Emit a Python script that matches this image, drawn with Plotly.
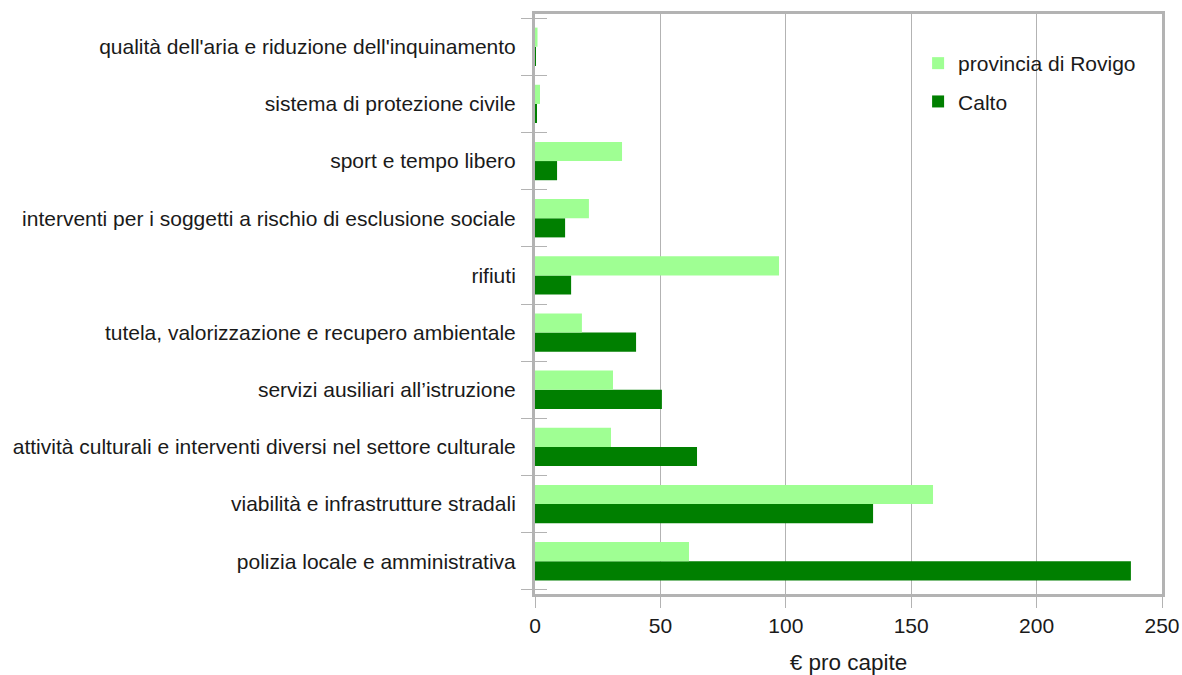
import plotly.graph_objects as go

categories = [
    "polizia locale e amministrativa",
    "viabilità e infrastrutture stradali",
    "attività culturali e interventi diversi nel settore culturale",
    "servizi ausiliari all’istruzione",
    "tutela, valorizzazione e recupero ambientale",
    "rifiuti",
    "interventi per i soggetti a rischio di esclusione sociale",
    "sport e tempo libero",
    "sistema di protezione civile",
    "qualità dell'aria e riduzione dell'inquinamento",
]
provincia = [61.4, 158.7, 30.3, 31.1, 18.7, 97.3, 21.5, 34.7, 2.0, 1.0]
calto = [237.6, 134.8, 64.6, 50.6, 40.3, 14.4, 12.0, 8.8, 0.5, 0.4]
x_ticks = [0, 50, 100, 150, 200, 250]

GRAY = "#b3b3b3"
FONT = "Liberation Sans, Arial, sans-serif"

fig = go.Figure()
fig.add_trace(go.Bar(y=categories, x=calto, orientation="h", name="Calto",
                     legendgroup="c", legendrank=2,
                     marker=dict(color="#007f00", line=dict(width=0))))
fig.add_trace(go.Bar(y=categories, x=provincia, orientation="h", name="provincia di Rovigo",
                     legendgroup="p", legendrank=1,
                     marker=dict(color="#9fff93", line=dict(width=0))))
# helper trace so the overlaid axis draws its inner tick marks
fig.add_trace(go.Scatter(y=categories, x=[None] * len(categories), yaxis="y2",
                         mode="markers", showlegend=False, hoverinfo="skip"))

fig.update_layout(
    width=1182, height=675,
    margin=dict(l=535, r=20, t=14, b=81),
    barmode="group", bargap=0.33, bargroupgap=0,
    paper_bgcolor="white", plot_bgcolor="white",
    font=dict(family=FONT, size=21, color="#1a1a1a"),
    showlegend=True,
    legend=dict(x=0.611, y=0.95, xanchor="left", yanchor="top",
                traceorder="grouped", bgcolor="rgba(0,0,0,0)",
                font=dict(size=21), itemwidth=30, tracegroupgap=8),
    xaxis=dict(range=[0, 250], tickvals=x_ticks, showgrid=True, gridcolor=GRAY, gridwidth=1,
               showline=True, linecolor=GRAY, linewidth=3, mirror=True,
               ticks="outside", ticklen=11, tickcolor=GRAY, tickwidth=1,
               zeroline=False, automargin=False,
               title=dict(text="€ pro capite", font=dict(size=22.5), standoff=22),
               tickfont=dict(size=21)),
    yaxis=dict(categoryorder="array", categoryarray=categories,
               showline=True, linecolor=GRAY, linewidth=3, mirror=True,
               ticks="outside", ticklen=11, tickcolor=GRAY, tickwidth=1,
               tickson="boundaries", showgrid=False, ticklabelstandoff=12,
               automargin=False, tickfont=dict(size=21)),
    yaxis2=dict(overlaying="y", matches="y", side="left", categoryorder="array",
                categoryarray=categories, ticks="inside", ticklen=12, tickcolor=GRAY,
                tickwidth=1, tickson="boundaries", showticklabels=False,
                showline=False, showgrid=False, zeroline=False, automargin=False),
)

fig.write_html("out.html", config={"displayModeBar": False},
               post_script="document.body.style.margin='0';")
